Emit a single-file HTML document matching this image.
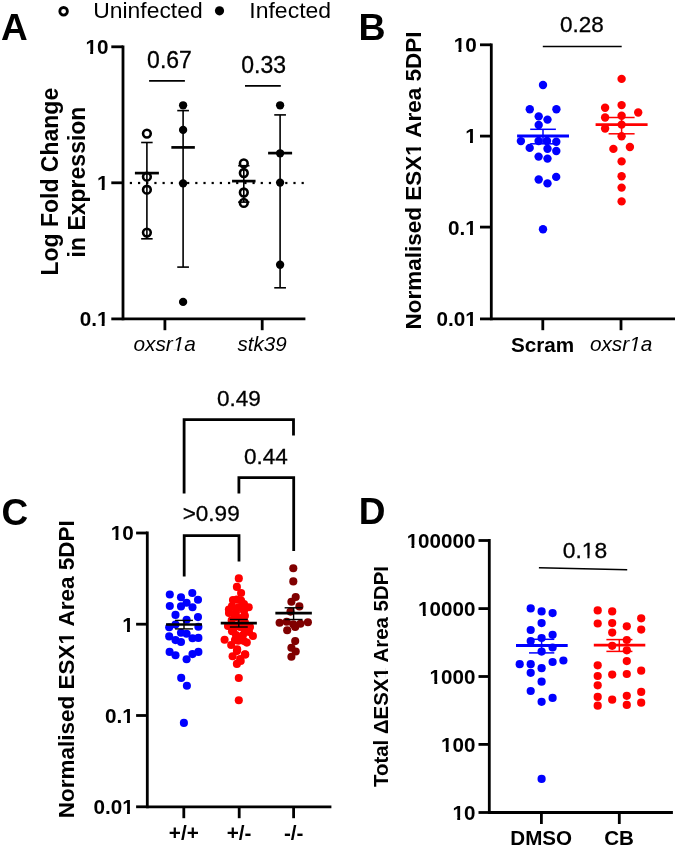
<!DOCTYPE html>
<html><head><meta charset="utf-8"><style>
html,body{margin:0;padding:0;background:#fff;}
svg{display:block;will-change:transform;}
text{font-family:"Liberation Sans",sans-serif;}
</style></head><body>
<svg width="677" height="848" viewBox="0 0 677 848">
<rect width="677" height="848" fill="#fff"/>
<circle cx="63.6" cy="11.3" r="3.8" fill="none" stroke="#000" stroke-width="2.8"/>
<text transform="translate(93.3,17.7) scale(1.04,1)" font-size="22">Uninfected</text>
<circle cx="219.5" cy="10.8" r="4.6" fill="#000"/>
<text transform="translate(249.3,17.6) scale(1.045,1)" font-size="22">Infected</text>
<text x="1.1" y="39.5" font-size="37" font-weight="bold" text-anchor="start" fill="#000">A</text>
<text x="358.4" y="40.2" font-size="37.5" font-weight="bold" text-anchor="start" fill="#000">B</text>
<text x="1.5" y="524.6" font-size="37" font-weight="bold" text-anchor="start" fill="#000">C</text>
<text x="358.7" y="524.1" font-size="37" font-weight="bold" text-anchor="start" fill="#000">D</text>
<line x1="123.0" y1="45.4" x2="123.0" y2="320.29999999999995" stroke="#000" stroke-width="2.8" />
<line x1="111.3" y1="46.8" x2="123.0" y2="46.8" stroke="#000" stroke-width="2.8" />
<line x1="111.3" y1="182.8" x2="123.0" y2="182.8" stroke="#000" stroke-width="2.8" />
<line x1="111.3" y1="318.9" x2="123.0" y2="318.9" stroke="#000" stroke-width="2.8" />
<line x1="123.0" y1="318.9" x2="305.4" y2="318.9" stroke="#000" stroke-width="2.8" />
<line x1="164.9" y1="318.9" x2="164.9" y2="330.2" stroke="#000" stroke-width="2.8" />
<line x1="262.2" y1="318.9" x2="262.2" y2="330.2" stroke="#000" stroke-width="2.8" />
<text x="108.4" y="53.8" font-size="20.7" font-weight="bold" text-anchor="end" fill="#000">10</text>
<text x="108.4" y="190.4" font-size="20.7" font-weight="bold" text-anchor="end" fill="#000">1</text>
<text x="108.4" y="326.2" font-size="20.7" font-weight="bold" text-anchor="end" fill="#000">0.1</text>
<text transform="translate(57.8,181.7) rotate(-90)" font-size="23" font-weight="bold" text-anchor="middle" fill="#000">Log Fold Change</text>
<text transform="translate(84.9,182.0) rotate(-90)" font-size="23" font-weight="bold" text-anchor="middle" fill="#000">in Expression</text>
<text x="164.7" y="351.2" font-size="20.8" font-weight="normal" text-anchor="middle" font-style="italic" fill="#000">oxsr1a</text>
<text x="262.1" y="350.8" font-size="20.6" font-weight="normal" text-anchor="middle" font-style="italic" fill="#000">stk39</text>
<rect x="129.80" y="181.9" width="2.2" height="2.2" fill="#000"/>
<rect x="137.98" y="181.9" width="2.2" height="2.2" fill="#000"/>
<rect x="146.16" y="181.9" width="2.2" height="2.2" fill="#000"/>
<rect x="154.34" y="181.9" width="2.2" height="2.2" fill="#000"/>
<rect x="162.52" y="181.9" width="2.2" height="2.2" fill="#000"/>
<rect x="170.70" y="181.9" width="2.2" height="2.2" fill="#000"/>
<rect x="178.88" y="181.9" width="2.2" height="2.2" fill="#000"/>
<rect x="187.06" y="181.9" width="2.2" height="2.2" fill="#000"/>
<rect x="195.24" y="181.9" width="2.2" height="2.2" fill="#000"/>
<rect x="203.42" y="181.9" width="2.2" height="2.2" fill="#000"/>
<rect x="211.60" y="181.9" width="2.2" height="2.2" fill="#000"/>
<rect x="219.78" y="181.9" width="2.2" height="2.2" fill="#000"/>
<rect x="227.96" y="181.9" width="2.2" height="2.2" fill="#000"/>
<rect x="236.14" y="181.9" width="2.2" height="2.2" fill="#000"/>
<rect x="244.32" y="181.9" width="2.2" height="2.2" fill="#000"/>
<rect x="252.50" y="181.9" width="2.2" height="2.2" fill="#000"/>
<rect x="260.68" y="181.9" width="2.2" height="2.2" fill="#000"/>
<rect x="268.86" y="181.9" width="2.2" height="2.2" fill="#000"/>
<rect x="277.04" y="181.9" width="2.2" height="2.2" fill="#000"/>
<rect x="285.22" y="181.9" width="2.2" height="2.2" fill="#000"/>
<rect x="293.40" y="181.9" width="2.2" height="2.2" fill="#000"/>
<rect x="301.58" y="181.9" width="2.2" height="2.2" fill="#000"/>
<text x="169.5" y="67.7" font-size="23" font-weight="normal" text-anchor="middle" stroke="#000" stroke-width="0.3" fill="#000">0.67</text>
<line x1="149.1" y1="80.9" x2="184.9" y2="80.9" stroke="#000" stroke-width="1.8" />
<text x="263.7" y="72.7" font-size="23" font-weight="normal" text-anchor="middle" stroke="#000" stroke-width="0.3" fill="#000">0.33</text>
<line x1="245.0" y1="85.9" x2="280.8" y2="85.9" stroke="#000" stroke-width="1.8" />
<line x1="146.9" y1="142.5" x2="146.9" y2="238.8" stroke="#000" stroke-width="1.6" />
<line x1="141.15" y1="142.5" x2="152.65" y2="142.5" stroke="#000" stroke-width="1.6" />
<line x1="141.15" y1="238.8" x2="152.65" y2="238.8" stroke="#000" stroke-width="1.6" />
<line x1="134.9" y1="173.1" x2="158.9" y2="173.1" stroke="#000" stroke-width="2.7" />
<circle cx="146.9" cy="133.6" r="3.85" fill="none" stroke="#000" stroke-width="2.6"/>
<circle cx="146.9" cy="176.7" r="3.85" fill="none" stroke="#000" stroke-width="2.6"/>
<circle cx="146.9" cy="189.7" r="3.85" fill="none" stroke="#000" stroke-width="2.6"/>
<circle cx="146.9" cy="232.6" r="3.85" fill="none" stroke="#000" stroke-width="2.6"/>
<line x1="183.1" y1="110.6" x2="183.1" y2="267.1" stroke="#000" stroke-width="1.6" />
<line x1="177.25" y1="110.6" x2="188.95" y2="110.6" stroke="#000" stroke-width="1.6" />
<line x1="177.25" y1="267.1" x2="188.95" y2="267.1" stroke="#000" stroke-width="1.6" />
<line x1="171.35" y1="147.4" x2="194.85" y2="147.4" stroke="#000" stroke-width="2.7" />
<circle cx="183.1" cy="105.3" r="4.15" fill="#000"/>
<circle cx="183.1" cy="129.9" r="4.15" fill="#000"/>
<circle cx="183.1" cy="183.4" r="4.15" fill="#000"/>
<circle cx="183.1" cy="301.9" r="4.15" fill="#000"/>
<line x1="243.8" y1="165.7" x2="243.8" y2="202.1" stroke="#000" stroke-width="1.6" />
<line x1="238.15" y1="165.7" x2="249.45000000000002" y2="165.7" stroke="#000" stroke-width="1.6" />
<line x1="238.15" y1="202.1" x2="249.45000000000002" y2="202.1" stroke="#000" stroke-width="1.6" />
<line x1="232.05" y1="181.1" x2="255.55" y2="181.1" stroke="#000" stroke-width="2.7" />
<circle cx="243.8" cy="163.4" r="3.85" fill="none" stroke="#000" stroke-width="2.6"/>
<circle cx="243.8" cy="173.0" r="3.85" fill="none" stroke="#000" stroke-width="2.6"/>
<circle cx="243.8" cy="192.5" r="3.85" fill="none" stroke="#000" stroke-width="2.6"/>
<circle cx="243.8" cy="202.9" r="3.85" fill="none" stroke="#000" stroke-width="2.6"/>
<line x1="280.1" y1="114.9" x2="280.1" y2="287.8" stroke="#000" stroke-width="1.6" />
<line x1="274.25" y1="114.9" x2="285.95000000000005" y2="114.9" stroke="#000" stroke-width="1.6" />
<line x1="274.25" y1="287.8" x2="285.95000000000005" y2="287.8" stroke="#000" stroke-width="1.6" />
<line x1="268.1" y1="153.1" x2="292.1" y2="153.1" stroke="#000" stroke-width="2.7" />
<circle cx="280.1" cy="105.3" r="4.15" fill="#000"/>
<circle cx="280.1" cy="153.3" r="4.15" fill="#000"/>
<circle cx="280.1" cy="182.6" r="4.15" fill="#000"/>
<circle cx="280.1" cy="264.7" r="4.15" fill="#000"/>
<line x1="491.3" y1="43.4" x2="491.3" y2="320.29999999999995" stroke="#000" stroke-width="2.8" />
<line x1="480.0" y1="44.8" x2="491.3" y2="44.8" stroke="#000" stroke-width="2.8" />
<line x1="480.0" y1="136.1" x2="491.3" y2="136.1" stroke="#000" stroke-width="2.8" />
<line x1="480.0" y1="227.1" x2="491.3" y2="227.1" stroke="#000" stroke-width="2.8" />
<line x1="480.0" y1="318.9" x2="491.3" y2="318.9" stroke="#000" stroke-width="2.8" />
<line x1="491.3" y1="318.9" x2="675.0" y2="318.9" stroke="#000" stroke-width="2.8" />
<line x1="542.8" y1="318.9" x2="542.8" y2="330.2" stroke="#000" stroke-width="2.8" />
<line x1="621.0" y1="318.9" x2="621.0" y2="330.2" stroke="#000" stroke-width="2.8" />
<text x="476.7" y="51.6" font-size="20.7" font-weight="bold" text-anchor="end" fill="#000">10</text>
<text x="476.7" y="143.3" font-size="20.7" font-weight="bold" text-anchor="end" fill="#000">1</text>
<text x="476.7" y="234.6" font-size="20.7" font-weight="bold" text-anchor="end" fill="#000">0.1</text>
<text x="476.7" y="326.1" font-size="20.7" font-weight="bold" text-anchor="end" fill="#000">0.01</text>
<text transform="translate(420.5,180.5) rotate(-90)" font-size="22.5" font-weight="bold" text-anchor="middle" fill="#000">Normalised ESX1 Area 5DPI</text>
<text x="542.6" y="351.8" font-size="20.7" font-weight="bold" text-anchor="middle" fill="#000">Scram</text>
<text x="621.1" y="350.8" font-size="20.8" font-weight="normal" text-anchor="middle" font-style="italic" fill="#000">oxsr1a</text>
<text x="582.0" y="32.3" font-size="22.5" font-weight="normal" text-anchor="middle" stroke="#000" stroke-width="0.3" fill="#000">0.28</text>
<line x1="542.8" y1="46.5" x2="621.7" y2="46.5" stroke="#000" stroke-width="1.6" />
<circle cx="543.0" cy="85.0" r="4.2" fill="#0000ff"/>
<circle cx="529.8" cy="109.3" r="4.2" fill="#0000ff"/>
<circle cx="556.4" cy="109.3" r="4.2" fill="#0000ff"/>
<circle cx="538.7" cy="116.4" r="4.2" fill="#0000ff"/>
<circle cx="547.5" cy="119.6" r="4.2" fill="#0000ff"/>
<circle cx="538.7" cy="125.0" r="4.2" fill="#0000ff"/>
<circle cx="520.9" cy="141.1" r="4.2" fill="#0000ff"/>
<circle cx="538.6" cy="141.0" r="4.2" fill="#0000ff"/>
<circle cx="547.0" cy="141.0" r="4.2" fill="#0000ff"/>
<circle cx="556.3" cy="141.7" r="4.2" fill="#0000ff"/>
<circle cx="529.7" cy="147.9" r="4.2" fill="#0000ff"/>
<circle cx="547.5" cy="148.8" r="4.2" fill="#0000ff"/>
<circle cx="556.3" cy="151.0" r="4.2" fill="#0000ff"/>
<circle cx="538.6" cy="156.6" r="4.2" fill="#0000ff"/>
<circle cx="547.5" cy="158.6" r="4.2" fill="#0000ff"/>
<circle cx="538.7" cy="179.5" r="4.2" fill="#0000ff"/>
<circle cx="547.5" cy="183.4" r="4.2" fill="#0000ff"/>
<circle cx="556.2" cy="176.9" r="4.2" fill="#0000ff"/>
<circle cx="543.0" cy="229.2" r="4.2" fill="#0000ff"/>
<line x1="543.0" y1="129.3" x2="543.0" y2="143.8" stroke="#0000ff" stroke-width="1.5" />
<line x1="530.2" y1="129.3" x2="555.9" y2="129.3" stroke="#0000ff" stroke-width="1.5" />
<line x1="530.2" y1="143.8" x2="555.9" y2="143.8" stroke="#0000ff" stroke-width="1.5" />
<line x1="517.1" y1="136.0" x2="569.0" y2="136.0" stroke="#0000ff" stroke-width="2.8" />
<circle cx="621.6" cy="78.9" r="4.2" fill="#ff0000"/>
<circle cx="605.1" cy="107.8" r="4.2" fill="#ff0000"/>
<circle cx="621.6" cy="105.1" r="4.2" fill="#ff0000"/>
<circle cx="638.2" cy="112.5" r="4.2" fill="#ff0000"/>
<circle cx="605.1" cy="117.5" r="4.2" fill="#ff0000"/>
<circle cx="621.6" cy="115.8" r="4.2" fill="#ff0000"/>
<circle cx="621.6" cy="124.6" r="4.2" fill="#ff0000"/>
<circle cx="605.1" cy="128.5" r="4.2" fill="#ff0000"/>
<circle cx="621.6" cy="136.2" r="4.2" fill="#ff0000"/>
<circle cx="613.4" cy="148.9" r="4.2" fill="#ff0000"/>
<circle cx="629.9" cy="147.0" r="4.2" fill="#ff0000"/>
<circle cx="621.6" cy="161.4" r="4.2" fill="#ff0000"/>
<circle cx="621.6" cy="176.2" r="4.2" fill="#ff0000"/>
<circle cx="621.6" cy="187.6" r="4.2" fill="#ff0000"/>
<circle cx="621.6" cy="201.4" r="4.2" fill="#ff0000"/>
<line x1="621.6" y1="117.5" x2="621.6" y2="133.8" stroke="#ff0000" stroke-width="1.5" />
<line x1="608.6" y1="117.5" x2="634.6" y2="117.5" stroke="#ff0000" stroke-width="1.5" />
<line x1="608.6" y1="133.8" x2="634.6" y2="133.8" stroke="#ff0000" stroke-width="1.5" />
<line x1="595.6" y1="124.6" x2="647.6" y2="124.6" stroke="#ff0000" stroke-width="2.8" />
<line x1="147.3" y1="531.6" x2="147.3" y2="808.1999999999999" stroke="#000" stroke-width="2.8" />
<line x1="136.1" y1="533.0" x2="147.3" y2="533.0" stroke="#000" stroke-width="2.8" />
<line x1="136.1" y1="624.2" x2="147.3" y2="624.2" stroke="#000" stroke-width="2.8" />
<line x1="136.1" y1="715.5" x2="147.3" y2="715.5" stroke="#000" stroke-width="2.8" />
<line x1="136.1" y1="806.8" x2="147.3" y2="806.8" stroke="#000" stroke-width="2.8" />
<line x1="147.3" y1="806.8" x2="331.4" y2="806.8" stroke="#000" stroke-width="2.8" />
<line x1="183.8" y1="806.8" x2="183.8" y2="818.2" stroke="#000" stroke-width="2.8" />
<line x1="239.2" y1="806.8" x2="239.2" y2="818.2" stroke="#000" stroke-width="2.8" />
<line x1="293.6" y1="806.8" x2="293.6" y2="818.2" stroke="#000" stroke-width="2.8" />
<text x="133.7" y="540.2" font-size="20.7" font-weight="bold" text-anchor="end" fill="#000">10</text>
<text x="133.7" y="631.7" font-size="20.7" font-weight="bold" text-anchor="end" fill="#000">1</text>
<text x="133.7" y="722.8" font-size="20.7" font-weight="bold" text-anchor="end" fill="#000">0.1</text>
<text x="133.7" y="814.0" font-size="20.7" font-weight="bold" text-anchor="end" fill="#000">0.01</text>
<text transform="translate(73.7,669.3) rotate(-90)" font-size="22.5" font-weight="bold" text-anchor="middle" fill="#000">Normalised ESX1 Area 5DPI</text>
<text x="183.8" y="840.1" font-size="20.7" font-weight="bold" text-anchor="middle" fill="#000">+/+</text>
<text x="239.0" y="840.1" font-size="20.7" font-weight="bold" text-anchor="middle" fill="#000">+/-</text>
<text x="293.7" y="840.1" font-size="20.7" font-weight="bold" text-anchor="middle" fill="#000">-/-</text>
<polyline points="184.1,493.6 184.1,419.7 293.5,419.7 293.5,435.6" fill="none" stroke="#000" stroke-width="2.8" stroke-linejoin="miter"/>
<text x="238.8" y="405.6" font-size="22.5" font-weight="normal" text-anchor="middle" stroke="#000" stroke-width="0.3" fill="#000">0.49</text>
<polyline points="238.9,493.6 238.9,477.7 293.7,477.7 293.7,551.0" fill="none" stroke="#000" stroke-width="2.8" stroke-linejoin="miter"/>
<text x="266.0" y="464.2" font-size="22.5" font-weight="normal" text-anchor="middle" stroke="#000" stroke-width="0.3" fill="#000">0.44</text>
<polyline points="184.2,576.5 184.2,535.7 239.0,535.7 239.0,561.5" fill="none" stroke="#000" stroke-width="2.8" stroke-linejoin="miter"/>
<text x="211.2" y="520.9" font-size="22.5" font-weight="normal" text-anchor="middle" stroke="#000" stroke-width="0.3" fill="#000">&gt;0.99</text>
<circle cx="169.8" cy="594.5" r="4.05" fill="#0000ff"/>
<circle cx="181.0" cy="597.2" r="4.05" fill="#0000ff"/>
<circle cx="192.3" cy="593.0" r="4.05" fill="#0000ff"/>
<circle cx="198.0" cy="599.8" r="4.05" fill="#0000ff"/>
<circle cx="169.8" cy="606.0" r="4.05" fill="#0000ff"/>
<circle cx="181.0" cy="606.4" r="4.05" fill="#0000ff"/>
<circle cx="186.6" cy="602.7" r="4.05" fill="#0000ff"/>
<circle cx="192.5" cy="607.2" r="4.05" fill="#0000ff"/>
<circle cx="175.5" cy="614.9" r="4.05" fill="#0000ff"/>
<circle cx="198.0" cy="617.1" r="4.05" fill="#0000ff"/>
<circle cx="186.6" cy="619.7" r="4.05" fill="#0000ff"/>
<circle cx="175.5" cy="624.6" r="4.05" fill="#0000ff"/>
<circle cx="169.2" cy="627.2" r="4.05" fill="#0000ff"/>
<circle cx="198.4" cy="626.8" r="4.05" fill="#0000ff"/>
<circle cx="181.0" cy="632.7" r="4.05" fill="#0000ff"/>
<circle cx="186.6" cy="633.8" r="4.05" fill="#0000ff"/>
<circle cx="169.2" cy="636.4" r="4.05" fill="#0000ff"/>
<circle cx="175.5" cy="640.1" r="4.05" fill="#0000ff"/>
<circle cx="181.0" cy="642.0" r="4.05" fill="#0000ff"/>
<circle cx="192.5" cy="638.3" r="4.05" fill="#0000ff"/>
<circle cx="198.4" cy="637.9" r="4.05" fill="#0000ff"/>
<circle cx="169.6" cy="651.9" r="4.05" fill="#0000ff"/>
<circle cx="175.5" cy="655.3" r="4.05" fill="#0000ff"/>
<circle cx="186.6" cy="659.3" r="4.05" fill="#0000ff"/>
<circle cx="192.5" cy="654.1" r="4.05" fill="#0000ff"/>
<circle cx="198.4" cy="651.9" r="4.05" fill="#0000ff"/>
<circle cx="181.2" cy="677.9" r="4.05" fill="#0000ff"/>
<circle cx="186.9" cy="685.7" r="4.05" fill="#0000ff"/>
<circle cx="183.9" cy="722.9" r="4.05" fill="#0000ff"/>
<circle cx="238.8" cy="578.4" r="4.05" fill="#ff0000"/>
<circle cx="236.9" cy="586.9" r="4.05" fill="#ff0000"/>
<circle cx="241.1" cy="593.0" r="4.05" fill="#ff0000"/>
<circle cx="236.9" cy="599.6" r="4.05" fill="#ff0000"/>
<circle cx="241.1" cy="600.5" r="4.05" fill="#ff0000"/>
<circle cx="228.9" cy="609.5" r="4.05" fill="#ff0000"/>
<circle cx="248.7" cy="607.2" r="4.05" fill="#ff0000"/>
<circle cx="238.8" cy="607.2" r="4.05" fill="#ff0000"/>
<circle cx="244.9" cy="615.7" r="4.05" fill="#ff0000"/>
<circle cx="231.7" cy="620.4" r="4.05" fill="#ff0000"/>
<circle cx="238.8" cy="618.0" r="4.05" fill="#ff0000"/>
<circle cx="244.9" cy="622.5" r="4.05" fill="#ff0000"/>
<circle cx="233.1" cy="631.3" r="4.05" fill="#ff0000"/>
<circle cx="244.9" cy="630.4" r="4.05" fill="#ff0000"/>
<circle cx="224.6" cy="639.8" r="4.05" fill="#ff0000"/>
<circle cx="252.9" cy="636.0" r="4.05" fill="#ff0000"/>
<circle cx="231.2" cy="645.0" r="4.05" fill="#ff0000"/>
<circle cx="238.3" cy="640.8" r="4.05" fill="#ff0000"/>
<circle cx="246.8" cy="642.6" r="4.05" fill="#ff0000"/>
<circle cx="236.9" cy="651.1" r="4.05" fill="#ff0000"/>
<circle cx="232.6" cy="656.3" r="4.05" fill="#ff0000"/>
<circle cx="244.9" cy="654.4" r="4.05" fill="#ff0000"/>
<circle cx="240.7" cy="661.0" r="4.05" fill="#ff0000"/>
<circle cx="236.9" cy="663.9" r="4.05" fill="#ff0000"/>
<circle cx="238.8" cy="678.0" r="4.05" fill="#ff0000"/>
<circle cx="238.8" cy="700.3" r="4.05" fill="#ff0000"/>
<circle cx="240.0" cy="627.0" r="4.05" fill="#ff0000"/>
<circle cx="228.0" cy="626.0" r="4.05" fill="#ff0000"/>
<circle cx="250.0" cy="627.0" r="4.05" fill="#ff0000"/>
<circle cx="232.0" cy="606.0" r="4.05" fill="#ff0000"/>
<circle cx="244.0" cy="604.0" r="4.05" fill="#ff0000"/>
<circle cx="236.0" cy="612.0" r="4.05" fill="#ff0000"/>
<circle cx="244.0" cy="611.0" r="4.05" fill="#ff0000"/>
<circle cx="229.0" cy="613.0" r="4.05" fill="#ff0000"/>
<circle cx="235.0" cy="617.0" r="4.05" fill="#ff0000"/>
<circle cx="242.0" cy="618.0" r="4.05" fill="#ff0000"/>
<circle cx="246.0" cy="626.0" r="4.05" fill="#ff0000"/>
<circle cx="236.0" cy="626.0" r="4.05" fill="#ff0000"/>
<circle cx="231.0" cy="627.0" r="4.05" fill="#ff0000"/>
<circle cx="243.0" cy="635.0" r="4.05" fill="#ff0000"/>
<circle cx="236.0" cy="635.0" r="4.05" fill="#ff0000"/>
<circle cx="249.0" cy="632.0" r="4.05" fill="#ff0000"/>
<circle cx="241.0" cy="637.0" r="4.05" fill="#ff0000"/>
<circle cx="235.0" cy="640.0" r="4.05" fill="#ff0000"/>
<circle cx="244.0" cy="641.0" r="4.05" fill="#ff0000"/>
<circle cx="232.0" cy="631.3" r="4.05" fill="#ff0000"/>
<circle cx="237.2" cy="649.4" r="4.05" fill="#ff0000"/>
<circle cx="245.3" cy="654.5" r="4.05" fill="#ff0000"/>
<circle cx="240.1" cy="659.0" r="4.05" fill="#ff0000"/>
<circle cx="233.0" cy="600.0" r="4.05" fill="#ff0000"/>
<circle cx="293.3" cy="568.2" r="4.05" fill="#800000"/>
<circle cx="293.3" cy="581.4" r="4.05" fill="#800000"/>
<circle cx="295.7" cy="597.0" r="4.05" fill="#800000"/>
<circle cx="291.4" cy="601.7" r="4.05" fill="#800000"/>
<circle cx="299.4" cy="606.4" r="4.05" fill="#800000"/>
<circle cx="290.5" cy="611.6" r="4.05" fill="#800000"/>
<circle cx="279.6" cy="622.7" r="4.05" fill="#800000"/>
<circle cx="286.7" cy="621.8" r="4.05" fill="#800000"/>
<circle cx="293.3" cy="624.2" r="4.05" fill="#800000"/>
<circle cx="300.4" cy="623.7" r="4.05" fill="#800000"/>
<circle cx="307.9" cy="622.3" r="4.05" fill="#800000"/>
<circle cx="287.2" cy="630.3" r="4.05" fill="#800000"/>
<circle cx="295.2" cy="627.0" r="4.05" fill="#800000"/>
<circle cx="295.2" cy="641.1" r="4.05" fill="#800000"/>
<circle cx="291.4" cy="647.7" r="4.05" fill="#800000"/>
<circle cx="295.7" cy="651.5" r="4.05" fill="#800000"/>
<circle cx="291.4" cy="656.7" r="4.05" fill="#800000"/>
<line x1="184.0" y1="620.4" x2="184.0" y2="628.9" stroke="#000" stroke-width="1.4" />
<line x1="175.05" y1="620.4" x2="192.95" y2="620.4" stroke="#000" stroke-width="1.4" />
<line x1="175.05" y1="628.9" x2="192.95" y2="628.9" stroke="#000" stroke-width="1.4" />
<line x1="166.0" y1="624.5" x2="202.0" y2="624.5" stroke="#000" stroke-width="2.7" />
<line x1="238.8" y1="619.5" x2="238.8" y2="627.0" stroke="#000" stroke-width="1.4" />
<line x1="229.85000000000002" y1="619.5" x2="247.75" y2="619.5" stroke="#000" stroke-width="1.4" />
<line x1="229.85000000000002" y1="627.0" x2="247.75" y2="627.0" stroke="#000" stroke-width="1.4" />
<line x1="220.75" y1="623.2" x2="256.85" y2="623.2" stroke="#000" stroke-width="2.7" />
<line x1="293.6" y1="607.8" x2="293.6" y2="619.5" stroke="#000" stroke-width="1.4" />
<line x1="284.65000000000003" y1="607.8" x2="302.55" y2="607.8" stroke="#000" stroke-width="1.4" />
<line x1="284.65000000000003" y1="619.5" x2="302.55" y2="619.5" stroke="#000" stroke-width="1.4" />
<line x1="275.35" y1="613.2" x2="311.85" y2="613.2" stroke="#000" stroke-width="2.7" />
<line x1="489.3" y1="539.1" x2="489.3" y2="813.9" stroke="#000" stroke-width="2.8" />
<line x1="478.5" y1="540.5" x2="489.3" y2="540.5" stroke="#000" stroke-width="2.8" />
<line x1="478.5" y1="608.6" x2="489.3" y2="608.6" stroke="#000" stroke-width="2.8" />
<line x1="478.5" y1="676.5" x2="489.3" y2="676.5" stroke="#000" stroke-width="2.8" />
<line x1="478.5" y1="744.4" x2="489.3" y2="744.4" stroke="#000" stroke-width="2.8" />
<line x1="478.5" y1="812.5" x2="489.3" y2="812.5" stroke="#000" stroke-width="2.8" />
<line x1="489.3" y1="812.5" x2="672.9" y2="812.5" stroke="#000" stroke-width="2.8" />
<line x1="541.4" y1="812.5" x2="541.4" y2="824.0" stroke="#000" stroke-width="2.8" />
<line x1="619.3" y1="812.5" x2="619.3" y2="824.0" stroke="#000" stroke-width="2.8" />
<text x="475.4" y="547.8" font-size="20.6" font-weight="bold" text-anchor="end" fill="#000">100000</text>
<text x="475.4" y="615.9" font-size="20.6" font-weight="bold" text-anchor="end" fill="#000">10000</text>
<text x="475.4" y="683.8" font-size="20.6" font-weight="bold" text-anchor="end" fill="#000">1000</text>
<text x="475.4" y="751.6999999999999" font-size="20.6" font-weight="bold" text-anchor="end" fill="#000">100</text>
<text x="475.4" y="819.8" font-size="20.6" font-weight="bold" text-anchor="end" fill="#000">10</text>
<text transform="translate(388.3,676.5) rotate(-90)" font-size="20.4" font-weight="bold" text-anchor="middle" fill="#000">Total ΔESX1 Area 5DPI</text>
<text x="541.2" y="845.4" font-size="20.6" font-weight="bold" text-anchor="middle" fill="#000">DMSO</text>
<text x="619.1" y="845.3" font-size="20.6" font-weight="bold" text-anchor="middle" fill="#000">CB</text>
<text x="584.9" y="557.8" font-size="22.8" font-weight="normal" text-anchor="middle" stroke="#000" stroke-width="0.3" fill="#000">0.18</text>
<line x1="538.9" y1="567.7" x2="627.2" y2="569.8" stroke="#000" stroke-width="1.6" />
<circle cx="530.7" cy="608.4" r="4.1" fill="#0000ff"/>
<circle cx="541.6" cy="611.4" r="4.1" fill="#0000ff"/>
<circle cx="552.6" cy="613.1" r="4.1" fill="#0000ff"/>
<circle cx="541.6" cy="623.1" r="4.1" fill="#0000ff"/>
<circle cx="530.7" cy="630.0" r="4.1" fill="#0000ff"/>
<circle cx="552.6" cy="634.8" r="4.1" fill="#0000ff"/>
<circle cx="541.6" cy="638.0" r="4.1" fill="#0000ff"/>
<circle cx="530.7" cy="641.0" r="4.1" fill="#0000ff"/>
<circle cx="552.6" cy="647.5" r="4.1" fill="#0000ff"/>
<circle cx="541.6" cy="651.6" r="4.1" fill="#0000ff"/>
<circle cx="519.7" cy="664.2" r="4.1" fill="#0000ff"/>
<circle cx="530.7" cy="664.2" r="4.1" fill="#0000ff"/>
<circle cx="552.6" cy="662.0" r="4.1" fill="#0000ff"/>
<circle cx="563.4" cy="660.5" r="4.1" fill="#0000ff"/>
<circle cx="530.7" cy="672.8" r="4.1" fill="#0000ff"/>
<circle cx="541.6" cy="668.2" r="4.1" fill="#0000ff"/>
<circle cx="541.6" cy="681.7" r="4.1" fill="#0000ff"/>
<circle cx="530.7" cy="691.0" r="4.1" fill="#0000ff"/>
<circle cx="552.6" cy="697.9" r="4.1" fill="#0000ff"/>
<circle cx="541.6" cy="701.8" r="4.1" fill="#0000ff"/>
<circle cx="541.6" cy="778.9" r="4.1" fill="#0000ff"/>
<line x1="541.6" y1="639.3" x2="541.6" y2="652.9" stroke="#0000ff" stroke-width="1.5" />
<line x1="530.0" y1="639.3" x2="554.3" y2="639.3" stroke="#0000ff" stroke-width="1.5" />
<line x1="529.0" y1="652.9" x2="554.3" y2="652.9" stroke="#0000ff" stroke-width="1.5" />
<line x1="516.0" y1="645.5" x2="567.7" y2="645.5" stroke="#0000ff" stroke-width="2.8" />
<circle cx="597.7" cy="610.4" r="4.1" fill="#ff0000"/>
<circle cx="612.2" cy="611.4" r="4.1" fill="#ff0000"/>
<circle cx="641.2" cy="618.3" r="4.1" fill="#ff0000"/>
<circle cx="597.7" cy="623.5" r="4.1" fill="#ff0000"/>
<circle cx="612.2" cy="623.1" r="4.1" fill="#ff0000"/>
<circle cx="626.8" cy="626.3" r="4.1" fill="#ff0000"/>
<circle cx="641.2" cy="629.6" r="4.1" fill="#ff0000"/>
<circle cx="612.2" cy="632.6" r="4.1" fill="#ff0000"/>
<circle cx="626.8" cy="640.0" r="4.1" fill="#ff0000"/>
<circle cx="612.2" cy="645.8" r="4.1" fill="#ff0000"/>
<circle cx="626.8" cy="650.3" r="4.1" fill="#ff0000"/>
<circle cx="626.8" cy="661.1" r="4.1" fill="#ff0000"/>
<circle cx="597.7" cy="665.3" r="4.1" fill="#ff0000"/>
<circle cx="641.2" cy="670.7" r="4.1" fill="#ff0000"/>
<circle cx="597.7" cy="676.0" r="4.1" fill="#ff0000"/>
<circle cx="612.2" cy="674.6" r="4.1" fill="#ff0000"/>
<circle cx="626.8" cy="674.0" r="4.1" fill="#ff0000"/>
<circle cx="597.7" cy="685.3" r="4.1" fill="#ff0000"/>
<circle cx="597.7" cy="696.9" r="4.1" fill="#ff0000"/>
<circle cx="612.2" cy="699.7" r="4.1" fill="#ff0000"/>
<circle cx="626.8" cy="695.8" r="4.1" fill="#ff0000"/>
<circle cx="641.2" cy="691.9" r="4.1" fill="#ff0000"/>
<circle cx="597.7" cy="705.7" r="4.1" fill="#ff0000"/>
<circle cx="626.8" cy="704.9" r="4.1" fill="#ff0000"/>
<circle cx="641.2" cy="702.7" r="4.1" fill="#ff0000"/>
<line x1="619.3" y1="639.6" x2="619.3" y2="651.4" stroke="#ff0000" stroke-width="1.5" />
<line x1="606.4" y1="639.6" x2="632.4" y2="639.6" stroke="#ff0000" stroke-width="1.5" />
<line x1="606.4" y1="651.4" x2="632.4" y2="651.4" stroke="#ff0000" stroke-width="1.5" />
<line x1="593.8" y1="645.1" x2="645.3" y2="645.1" stroke="#ff0000" stroke-width="2.8" />
<polygon points="85.19,55.60 85.19,51.19 90.20,51.19 90.20,55.60" fill="#fff"/><polygon points="93.08,55.60 93.08,51.19 97.82,51.19 97.82,55.60" fill="#fff"/>
<polygon points="96.69,192.20 96.69,187.79 101.70,187.79 101.70,192.20" fill="#fff"/><polygon points="104.58,192.20 104.58,187.79 109.32,187.79 109.32,192.20" fill="#fff"/>
<polygon points="96.69,328.00 96.69,323.59 101.70,323.59 101.70,328.00" fill="#fff"/><polygon points="104.58,328.00 104.58,323.59 109.32,323.59 109.32,328.00" fill="#fff"/>
<polygon points="171.81,353.00 172.11,349.15 177.26,349.15 176.95,353.00" fill="#fff"/><polygon points="178.79,353.00 179.10,349.15 184.08,349.15 183.78,353.00" fill="#fff"/>
<polygon points="453.49,53.40 453.49,48.99 458.50,48.99 458.50,53.40" fill="#fff"/><polygon points="461.38,53.40 461.38,48.99 466.12,48.99 466.12,53.40" fill="#fff"/>
<polygon points="464.99,145.10 464.99,140.69 470.00,140.69 470.00,145.10" fill="#fff"/><polygon points="472.88,145.10 472.88,140.69 477.62,140.69 477.62,145.10" fill="#fff"/>
<polygon points="464.99,236.40 464.99,231.99 470.00,231.99 470.00,236.40" fill="#fff"/><polygon points="472.88,236.40 472.88,231.99 477.62,231.99 477.62,236.40" fill="#fff"/>
<polygon points="464.99,327.90 464.99,323.49 470.00,323.49 470.00,327.90" fill="#fff"/><polygon points="472.88,327.90 472.88,323.49 477.62,323.49 477.62,327.90" fill="#fff"/>
<g transform="translate(420.5,180.5) rotate(-90)"><polygon points="24.70,1.80 24.70,-2.80 30.01,-2.80 30.01,1.80" fill="#fff"/><polygon points="33.14,1.80 33.14,-2.80 38.17,-2.80 38.17,1.80" fill="#fff"/></g>
<polygon points="628.21,352.60 628.51,348.75 633.66,348.75 633.35,352.60" fill="#fff"/><polygon points="635.19,352.60 635.50,348.75 640.48,348.75 640.18,352.60" fill="#fff"/>
<polygon points="110.49,542.00 110.49,537.59 115.50,537.59 115.50,542.00" fill="#fff"/><polygon points="118.38,542.00 118.38,537.59 123.12,537.59 123.12,542.00" fill="#fff"/>
<polygon points="121.99,633.50 121.99,629.09 127.00,629.09 127.00,633.50" fill="#fff"/><polygon points="129.88,633.50 129.88,629.09 134.62,629.09 134.62,633.50" fill="#fff"/>
<polygon points="121.99,724.60 121.99,720.19 127.00,720.19 127.00,724.60" fill="#fff"/><polygon points="129.88,724.60 129.88,720.19 134.62,720.19 134.62,724.60" fill="#fff"/>
<polygon points="121.99,815.80 121.99,811.39 127.00,811.39 127.00,815.80" fill="#fff"/><polygon points="129.88,815.80 129.88,811.39 134.62,811.39 134.62,815.80" fill="#fff"/>
<g transform="translate(73.7,669.3) rotate(-90)"><polygon points="24.70,1.80 24.70,-2.80 30.01,-2.80 30.01,1.80" fill="#fff"/><polygon points="33.14,1.80 33.14,-2.80 38.17,-2.80 38.17,1.80" fill="#fff"/></g>
<polygon points="406.46,549.60 406.46,545.20 411.45,545.20 411.45,549.60" fill="#fff"/><polygon points="414.32,549.60 414.32,545.20 419.05,545.20 419.05,549.60" fill="#fff"/>
<polygon points="417.92,617.70 417.92,613.30 422.91,613.30 422.91,617.70" fill="#fff"/><polygon points="425.77,617.70 425.77,613.30 430.50,613.30 430.50,617.70" fill="#fff"/>
<polygon points="429.37,685.60 429.37,681.20 434.36,681.20 434.36,685.60" fill="#fff"/><polygon points="437.23,685.60 437.23,681.20 441.96,681.20 441.96,685.60" fill="#fff"/>
<polygon points="440.82,753.50 440.82,749.10 445.81,749.10 445.81,753.50" fill="#fff"/><polygon points="448.68,753.50 448.68,749.10 453.41,749.10 453.41,753.50" fill="#fff"/>
<polygon points="452.28,821.60 452.28,817.20 457.27,817.20 457.27,821.60" fill="#fff"/><polygon points="460.13,821.60 460.13,817.20 464.86,817.20 464.86,821.60" fill="#fff"/>
<g transform="translate(388.3,676.5) rotate(-90)"><polygon points="-2.36,1.80 -2.36,-2.58 2.60,-2.58 2.60,1.80" fill="#fff"/><polygon points="5.44,1.80 5.44,-2.58 10.14,-2.58 10.14,1.80" fill="#fff"/></g>
<polygon points="581.95,559.60 581.95,555.60 587.43,555.60 587.43,559.60" fill="#fff"/><polygon points="589.48,559.60 589.48,555.60 594.78,555.60 594.78,559.60" fill="#fff"/>
</svg>
</body></html>
